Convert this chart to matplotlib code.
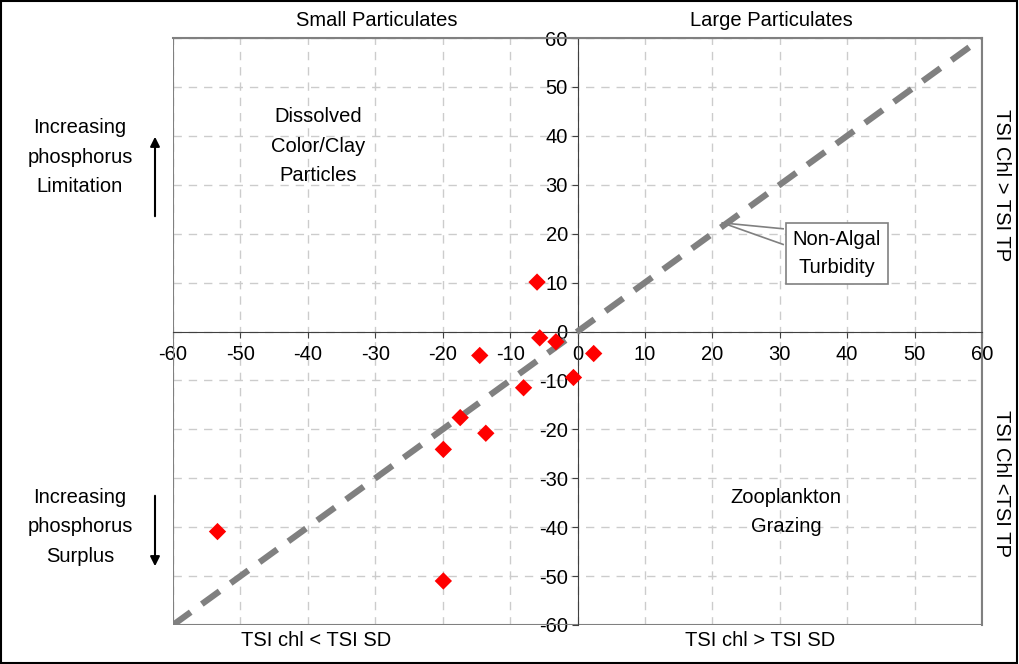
import numpy as np
import matplotlib.pyplot as plt
from matplotlib.patches import Rectangle, FancyArrowPatch

plt.rcParams['font.family'] = ['Liberation Sans', 'DejaVu Sans']

# TSI chl - TSI SD (x) vs TSI chl - TSI TP (y)
x_vals = [-6, -5.6, -3.2, -14.5, 2.4, -0.6, -8.0, -17.4, -13.6, -19.9, -53.4, -19.9]
y_vals = [10.1, -1.3, -2.1, -4.9, -4.5, -9.4, -11.5, -17.6, -20.8, -24.1, -40.9, -51.0]
ticks = np.arange(-60, 61, 10)
one_to_one = [-60, 60]

fig = plt.figure(figsize=(10.19, 6.64), dpi=100)
ax = fig.add_axes([173/1019, 1 - 625/664, (982-173)/1019, (625-38)/664])

ax.set_xlim(-60, 60)
ax.set_ylim(-60, 60)
ax.set_xticks(ticks)
ax.set_yticks(ticks)
ax.grid(True, color='#cccccc', linestyle=(0, (6, 5)), linewidth=1)
ax.set_axisbelow(True)

for s in ['top', 'right']:
    ax.spines[s].set_color('#808080')
    ax.spines[s].set_linewidth(1.5)
ax.spines['left'].set_position(('data', 0))
ax.spines['bottom'].set_position(('data', 0))
ax.spines['left'].set_color('#404040')
ax.spines['bottom'].set_color('#404040')
# gray frame round the plot area
ax.add_patch(Rectangle((0, 0), 1, 1, transform=ax.transAxes, fill=False,
                       edgecolor='#808080', linewidth=1.5, zorder=1))

ax.tick_params(direction='out', length=4, color='#404040', labelsize=14.5, pad=3)
ax.tick_params(axis='x', pad=6)
ax.set_xticklabels([str(t) for t in ticks])
ax.set_yticklabels([str(t) for t in ticks])

ax.plot(one_to_one, one_to_one, color='#808080', linewidth=4.5,
        linestyle=(0, (3.5, 2.2)), zorder=3)
ax.scatter(x_vals, y_vals, marker='D', s=78, color='#ff0000', zorder=4,
           edgecolors='none')

fs = 14.5
ls = 1.7
fig.text(377/1019, 1 - 20/664, 'Small Particulates', ha='center', va='center', fontsize=fs)
fig.text(771/1019, 1 - 20/664, 'Large Particulates', ha='center', va='center', fontsize=fs)
fig.text(316/1019, 1 - 640/664, 'TSI chl < TSI SD', ha='center', va='center', fontsize=fs)
fig.text(760/1019, 1 - 640/664, 'TSI chl > TSI SD', ha='center', va='center', fontsize=fs)
fig.text(1001/1019, 1 - 185/664, 'TSI Chl > TSI TP', ha='center', va='center',
         fontsize=fs, rotation=-90)
fig.text(1001/1019, 1 - 483/664, 'TSI Chl <TSI TP', ha='center', va='center',
         fontsize=fs, rotation=-90)
fig.text(80/1019, 1 - 157/664, 'Increasing\nphosphorus\nLimitation', ha='center',
         va='center', fontsize=fs, linespacing=ls)
fig.text(80/1019, 1 - 527/664, 'Increasing\nphosphorus\nSurplus', ha='center',
         va='center', fontsize=fs, linespacing=ls)
fig.text(318/1019, 1 - 146/664, 'Dissolved\nColor/Clay\nParticles', ha='center',
         va='center', fontsize=fs, linespacing=ls)
fig.text(786/1019, 1 - 512/664, 'Zooplankton\nGrazing', ha='center',
         va='center', fontsize=fs, linespacing=ls)

arrow = dict(arrowstyle='-|>', color='black', lw=1.5, mutation_scale=14)
fig.patches.append(FancyArrowPatch((155/1019, 1 - 219/664), (155/1019, 1 - 134/664),
                                   transform=fig.transFigure, **arrow))
fig.patches.append(FancyArrowPatch((155/1019, 1 - 493/664), (155/1019, 1 - 569/664),
                                   transform=fig.transFigure, **arrow))

# callout box
ax.plot([21.5, 30.5], [22.2, 21.0], color='#808080', lw=1.2, zorder=5)
ax.plot([21.5, 30.5], [22.2, 17.8], color='#808080', lw=1.2, zorder=5)
ax.text(38.5, 16.0, 'Non-Algal\nTurbidity', ha='center', va='center', fontsize=fs,
        linespacing=1.6, zorder=6,
        bbox=dict(boxstyle='square,pad=0.35', facecolor='white', edgecolor='#808080', lw=1.2))

# outer border
fig.patches.append(Rectangle((0.001, 0.001), 0.997, 0.997, transform=fig.transFigure,
                             fill=False, edgecolor='black', linewidth=1.5))

fig.savefig('out.png', dpi=100)
